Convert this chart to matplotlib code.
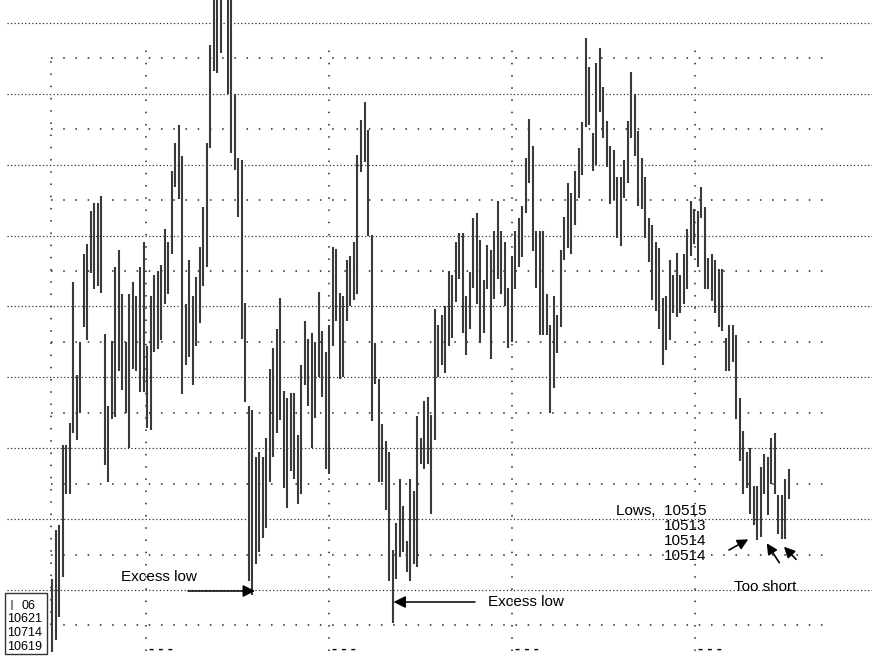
import numpy as np
import matplotlib.pyplot as plt
from matplotlib.patches import Rectangle
from matplotlib.lines import Line2D

plt.rcParams['font.family'] = ['Liberation Sans', 'DejaVu Sans']

# price bars in grid units (one dense gridline = 10 units)
highs = [1.5, 8.5, 9.1, 20.4, 20.4, 23.5, 43.4, 30.3, 35.0, 47.4, 48.8, 53.5, 54.6, 54.6, 55.6, 36.1, 26.0,
         35.1, 45.6, 47.9, 41.8, 35.0, 41.8, 43.5, 41.5, 45.6, 49.1, 34.4, 41.5, 44.4, 45.0, 45.8, 50.9, 49.1,
         59.1, 63.1, 65.6, 61.2, 40.3, 46.6, 41.5, 44.1, 48.4, 54.0, 63.0, 76.8, 84.0, 84.0, 84.0, 86.0, 84.0,
         84.0, 70.0, 60.9, 60.7, 40.5, 26.0, 25.4, 18.8, 19.4, 18.8, 21.5, 31.2, 34.2, 36.8, 41.2, 28.1, 27.1, 27.8,
         27.8, 21.9, 31.8, 37.9, 35.4, 36.2, 35.0, 42.1, 36.6, 33.5, 37.4, 48.4, 48.1, 41.9, 41.5, 46.6, 47.1,
         49.1, 61.4, 66.3, 68.8, 64.9, 50.1, 34.8, 29.8, 23.4, 21.0, 19.4, 5.6, 9.4, 15.6, 11.9, 6.9, 15.6, 14.0, 24.5,
         21.5, 26.6, 27.2, 24.7, 39.7, 37.4, 38.8, 40.0, 45.0, 44.4, 49.1, 50.3, 50.3, 41.5, 44.8, 52.4, 53.2,
         49.4, 43.7, 48.7, 47.9, 50.7, 54.8, 50.7, 49.1, 42.6, 47.1, 50.7, 52.5, 54.1, 60.9, 66.4, 62.6, 50.7, 50.7,
         50.7, 41.8, 37.4, 41.5, 38.8, 47.9, 52.6, 57.4, 56.0, 59.1, 62.4, 66.0, 77.9, 73.8, 64.4, 74.4, 76.4,
         70.9, 66.2, 62.6, 62.1, 58.2, 58.2, 60.6, 66.2, 73.0, 70.0, 64.7, 60.9, 58.2, 52.4, 51.5, 49.1, 48.2,
         41.2, 41.5, 46.5,
         44.4, 47.6, 44.4, 47.4, 50.9, 54.8, 53.8, 53.5, 56.8, 54.0, 46.8, 47.4, 46.5, 45.3, 45.3, 35.6, 37.4,
         37.4, 35.9, 27.1, 22.4, 19.4, 20.0, 14.7, 14.7, 17.4, 19.2, 18.7, 21.5, 22.1, 13.4, 13.4, 15.6, 17.1]
lows = [-8.7, -7.0, -3.8, 1.8, 13.5, 13.5, 22.1, 21.2, 25.0, 37.1, 35.3, 44.7, 42.4, 42.9, 41.9, 17.6, 15.3,
        24.1, 24.4, 30.9, 28.2, 25.0, 20.0, 31.2, 30.9, 27.9, 27.9, 22.9, 22.6, 33.5, 34.0, 35.3, 40.4, 41.8,
        47.4, 56.8, 55.2, 27.6, 31.8, 32.9, 28.9, 34.4, 37.6, 42.9, 45.6, 62.4, 73.2, 72.9, 75.8, 83.5, 70.0,
        61.7, 59.2, 52.6, 35.4, 26.5, 1.2, -0.7, 3.6, 5.3, 7.4, 8.8, 15.3, 18.8, 22.1, 24.0, 14.4, 11.5, 16.8,
        15.6, 12.1, 13.5, 28.9, 25.9, 20.0, 24.2, 30.0, 27.2, 17.1, 16.4, 34.4, 37.9, 29.7, 30.0, 37.9, 40.1,
        40.9, 41.8, 58.9, 60.3, 50.0, 23.8, 29.1, 15.3, 15.3, 11.3, 1.2, -4.7, 1.5, 4.7, 5.4, 2.6, 1.2, 3.6, 3.2,
        17.8, 17.1, 17.8, 10.7, 21.2, 30.0, 31.8, 30.6, 34.4, 35.6, 40.6, 43.8, 36.2, 33.1, 36.8, 42.6, 40.3,
        34.8, 36.2, 42.4, 32.6, 41.0, 43.8, 41.8, 40.0, 34.1, 35.0, 42.4, 45.6, 46.9, 53.2, 57.4, 47.8, 42.6, 35.9,
        35.9, 35.9, 25.0, 28.5, 33.4, 37.1, 46.5, 48.2, 47.4, 51.5, 55.3, 58.5, 65.3, 65.6, 59.1, 60.0, 67.4,
        63.8, 59.7, 54.4, 55.0, 49.7, 48.5, 55.3, 57.4, 63.8, 61.2, 54.1, 53.8, 49.7, 46.2, 40.9, 39.4, 36.8,
        31.8, 33.8, 35.3,
        39.1, 38.5, 39.1, 40.3, 42.4, 47.1, 48.8, 45.6, 52.4, 42.4, 42.4, 40.7, 39.1, 37.1, 36.6, 30.9, 30.9,
        32.1, 24.1, 18.2, 13.5, 14.4, 10.7, 9.1, 7.1, 7.5, 13.5, 10.6, 15.0, 13.5, 7.9, 7.2, 7.2, 12.9]

low_labels = ['Lows,  10515', '10513', '10514', '10514']
box_labels = ['06', '10621', '10714', '10619']

W, H = 872, 656
X0, DX = 52.3, 3.508   # pixel column of first bar, bar spacing
Y0, DY = 590.0, 7.09   # pixel row of the zero gridline, pixels per unit


def bx(p):
    return (p - X0) / DX


def by(p):
    return (Y0 - p) / DY


fig = plt.figure(figsize=(W / 100, H / 100), dpi=100)
ax = fig.add_axes([0, 0, 1, 1])
ax.set_xlim(bx(0), bx(W))
ax.set_ylim(by(H), by(0))
ax.axis('off')

# dense dotted gridlines
for v in range(0, 81, 10):
    ax.hlines(v, bx(7), bx(W), colors='#222222', lw=0.85, linestyles=[(0, (1, 2))])
# sparse dotted gridlines
for v in range(-5, 76, 10):
    ax.hlines(v, bx(51), bx(830), colors='#222222', lw=1.1, linestyles=[(0, (1, 7))])
ax.vlines(bx(51), -5, 75, colors='#222222', lw=1.1, linestyles=[(0, (1, 7))])
for gx in [146, 329, 512, 695]:
    ax.vlines(bx(gx), -8.6, 77.5, colors='#222222', lw=1.1, linestyles=[(0, (1, 7))])
    # tops of the date labels, clipped by the bottom edge
    ax.text(gx + 3, 0, '- - -', transform=None, fontsize=11, fontweight='bold',
            va='bottom', ha='left')

# price bars
idx = np.arange(len(highs))
ax.vlines(idx, lows, highs, colors='#3a3a3a', lw=1.5)

# annotations
ax.text(bx(121), by(577), 'Excess low', fontsize=11, ha='left', va='center')
ax.annotate('', xy=(bx(255), by(591)), xytext=(bx(188), by(591)),
            arrowprops=dict(arrowstyle='-|>', color='black', lw=1.1, mutation_scale=18,
                            shrinkA=0, shrinkB=0))
ax.text(bx(488), by(602), 'Excess low', fontsize=11, ha='left', va='center')
ax.annotate('', xy=(bx(393.5), by(602)), xytext=(bx(475), by(602)),
            arrowprops=dict(arrowstyle='-|>', color='black', lw=1.1, mutation_scale=18,
                            shrinkA=0, shrinkB=0))

for lab, yy in zip(low_labels, [511, 526, 541, 556]):
    ax.text(bx(706), by(yy), lab, fontsize=11, ha='right', va='center')
ax.text(bx(734), by(587), 'Too short', fontsize=11, ha='left', va='center')
for (x1, y1, x2, y2) in [(729, 550, 748.3, 539.3), (779.3, 562.7, 766.7, 543.3), (796, 559.3, 784, 546.7)]:
    ax.annotate('', xy=(bx(x2), by(y2)), xytext=(bx(x1), by(y1)),
                arrowprops=dict(arrowstyle='-|>', color='black', lw=1.2, mutation_scale=16,
                                shrinkA=0, shrinkB=0))

# little info box, bottom left
ax.add_patch(Rectangle((5 / W, 1 - 654.3 / H), 41.7 / W, 61 / H, transform=ax.transAxes,
                       fill=False, ec='#333333', lw=1.0))
ax.add_line(Line2D([11.7 / W, 11.7 / W], [1 - 601 / H, 1 - 609 / H], transform=ax.transAxes,
                   color='#888888', lw=1.5))
ax.text(21.7 / W, 1 - 606 / H, box_labels[0], transform=ax.transAxes, fontsize=9, va='center')
for lab, yy in zip(box_labels[1:], [619.5, 633, 646.5]):
    ax.text(7.3 / W, 1 - yy / H, lab, transform=ax.transAxes, fontsize=9, va='center')

fig.savefig('out.png', dpi=100)
